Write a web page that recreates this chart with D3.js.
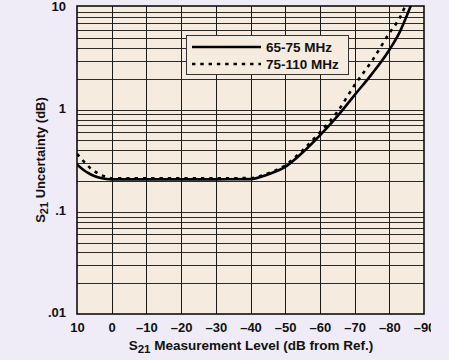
<!DOCTYPE html>
<html><head><meta charset="utf-8">
<script src="https://cdn.jsdelivr.net/npm/d3@7"></script>
<style>body{margin:0;background:#EFECF7;} svg{display:block}</style>
</head><body><svg id="c" width="449" height="360"></svg>
<script>
// ---- data ----
const xTicks = [10, 0, -10, -20, -30, -40, -50, -60, -70, -80, -90];
const yTicks = [10, 1, 0.1, 0.01];
const yTickLabels = ["10", "1", ".1", ".01"];
const levels =     [10,   8,     6,     4,     2,     0,     -10,   -20,   -30,   -40,   -45,   -50,   -55,  -60,  -65,  -70,  -75,  -80,  -83,  -86,  -89];
const unc6575 =    [0.29, 0.255, 0.232, 0.218, 0.211, 0.208, 0.208, 0.208, 0.208, 0.209, 0.232, 0.275, 0.38, 0.56, 0.86, 1.39, 2.24, 3.84, 5.75, 10.0, 18];
const unc75110 =   [0.37, 0.31,  0.265, 0.238, 0.222, 0.213, 0.213, 0.213, 0.213, 0.214, 0.238, 0.285, 0.40, 0.60, 0.95, 1.74, 3.0,  5.6,  7.9,  13.5, 24];
const seriesNames = ["65-75 MHz", "75-110 MHz"];

const svg = d3.select("#c");
const FONT = "'Liberation Sans', Arial, Helvetica, sans-serif";
const x = d3.scaleLinear().domain([10, -90]).range([77, 424]);
const y = d3.scaleLog().domain([0.01, 10]).range([314, 7.5]);

const defs = svg.append("defs");
defs.append("clipPath").attr("id", "plotclip").append("rect")
  .attr("x", 77).attr("y", 6).attr("width", 347).attr("height", 308);
defs.append("clipPath").attr("id", "labclip").append("rect")
  .attr("x", 0).attr("y", 0).attr("width", 431).attr("height", 360);

// plot background
svg.append("rect").attr("x", 77).attr("y", 6).attr("width", 347).attr("height", 308)
  .attr("fill", "#F5ECDF");

// horizontal gridlines (log minor + major)
const hVals = [];
[0.01, 0.1, 1].forEach(k => { for (let m = 1; m <= 9; m++) hVals.push(m * k); });
svg.append("g").selectAll("line").data(hVals.filter(v => v > 0.0100001)).join("line")
  .attr("x1", 77).attr("x2", 424)
  .attr("y1", d => Math.round(y(d)) + 0.5).attr("y2", d => Math.round(y(d)) + 0.5)
  .attr("stroke", "#2a2a2a").attr("stroke-width", 1);

// vertical gridlines
svg.append("g").selectAll("line").data(xTicks.slice(1, -1)).join("line")
  .attr("x1", d => Math.round(x(d)) + 0.5).attr("x2", d => Math.round(x(d)) + 0.5)
  .attr("y1", 6).attr("y2", 314)
  .attr("stroke", "#1a1a1a").attr("stroke-width", 1);

// frame
svg.append("rect").attr("x", 77).attr("y", 6).attr("width", 347).attr("height", 308)
  .attr("fill", "none").attr("stroke", "#000").attr("stroke-width", 1.5);

// curves
const line = d3.line().x((d, i) => x(levels[i])).y(d => y(d)).curve(d3.curveMonotoneX);
const pg = svg.append("g").attr("clip-path", "url(#plotclip)");
pg.append("path").attr("d", line(unc6575)).attr("fill", "none")
  .attr("stroke", "#000").attr("stroke-width", 2.6);
pg.append("path").attr("d", line(unc75110)).attr("fill", "none")
  .attr("stroke", "#000").attr("stroke-width", 2.6).attr("stroke-dasharray", "3.4,4.9");

// legend
const lg = svg.append("g");
lg.append("rect").attr("x", 186.5).attr("y", 35.5).attr("width", 162).attr("height", 39)
  .attr("fill", "#F5ECDF").attr("stroke", "#333").attr("stroke-width", 1);
[0, 1].forEach(i => {
  const yy = 47 + i * 17;
  lg.append("line").attr("x1", 192).attr("x2", 261).attr("y1", yy).attr("y2", yy)
    .attr("stroke", "#000").attr("stroke-width", 2.6)
    .attr("stroke-dasharray", i ? "3.4,4.9" : null);
  lg.append("text").attr("x", 266).attr("y", yy + 4.5).text(seriesNames[i])
    .attr("font-family", FONT).attr("font-weight", "bold").attr("font-size", 13.5).attr("fill", "#111");
});

// x axis labels
const xa = svg.append("g").attr("transform", "translate(0,319)").attr("clip-path", "url(#labclip)")
  .call(d3.axisBottom(x).tickValues(xTicks).tickSize(0).tickPadding(4)
    .tickFormat(d => d > 0 ? String(d) : d === 0 ? "0" : "\u2013" + Math.abs(d)));
xa.select(".domain").remove();
xa.selectAll("text").attr("font-family", FONT).attr("font-weight", "bold").attr("font-size", 13).attr("fill", "#111");

// y axis labels
svg.append("g").selectAll("text").data(yTicks).join("text")
  .attr("x", 66).attr("y", d => y(d) - 1.5).attr("dy", "0.35em").attr("text-anchor", "end")
  .text((d, i) => yTickLabels[i])
  .attr("font-family", FONT).attr("font-weight", "bold").attr("font-size", 13).attr("fill", "#111");

// x title
const xt = svg.append("text").attr("x", 251).attr("y", 350).attr("text-anchor", "middle")
  .attr("font-family", FONT).attr("font-weight", "bold").attr("font-size", 13.5).attr("fill", "#111");
xt.append("tspan").text("S");
xt.append("tspan").attr("font-size", 11.5).attr("dy", 3).text("21");
xt.append("tspan").attr("dy", -3).text(" Measurement Level (dB from Ref.)");

// y title
const yt = svg.append("text").attr("transform", "translate(45,160) rotate(-90)").attr("text-anchor", "middle")
  .attr("font-family", FONT).attr("font-weight", "bold").attr("font-size", 13).attr("fill", "#111");
yt.append("tspan").text("S");
yt.append("tspan").attr("font-size", 11).attr("dy", 3).text("21");
yt.append("tspan").attr("dy", -3).text(" Uncertainty (dB)");
</script></body></html>
